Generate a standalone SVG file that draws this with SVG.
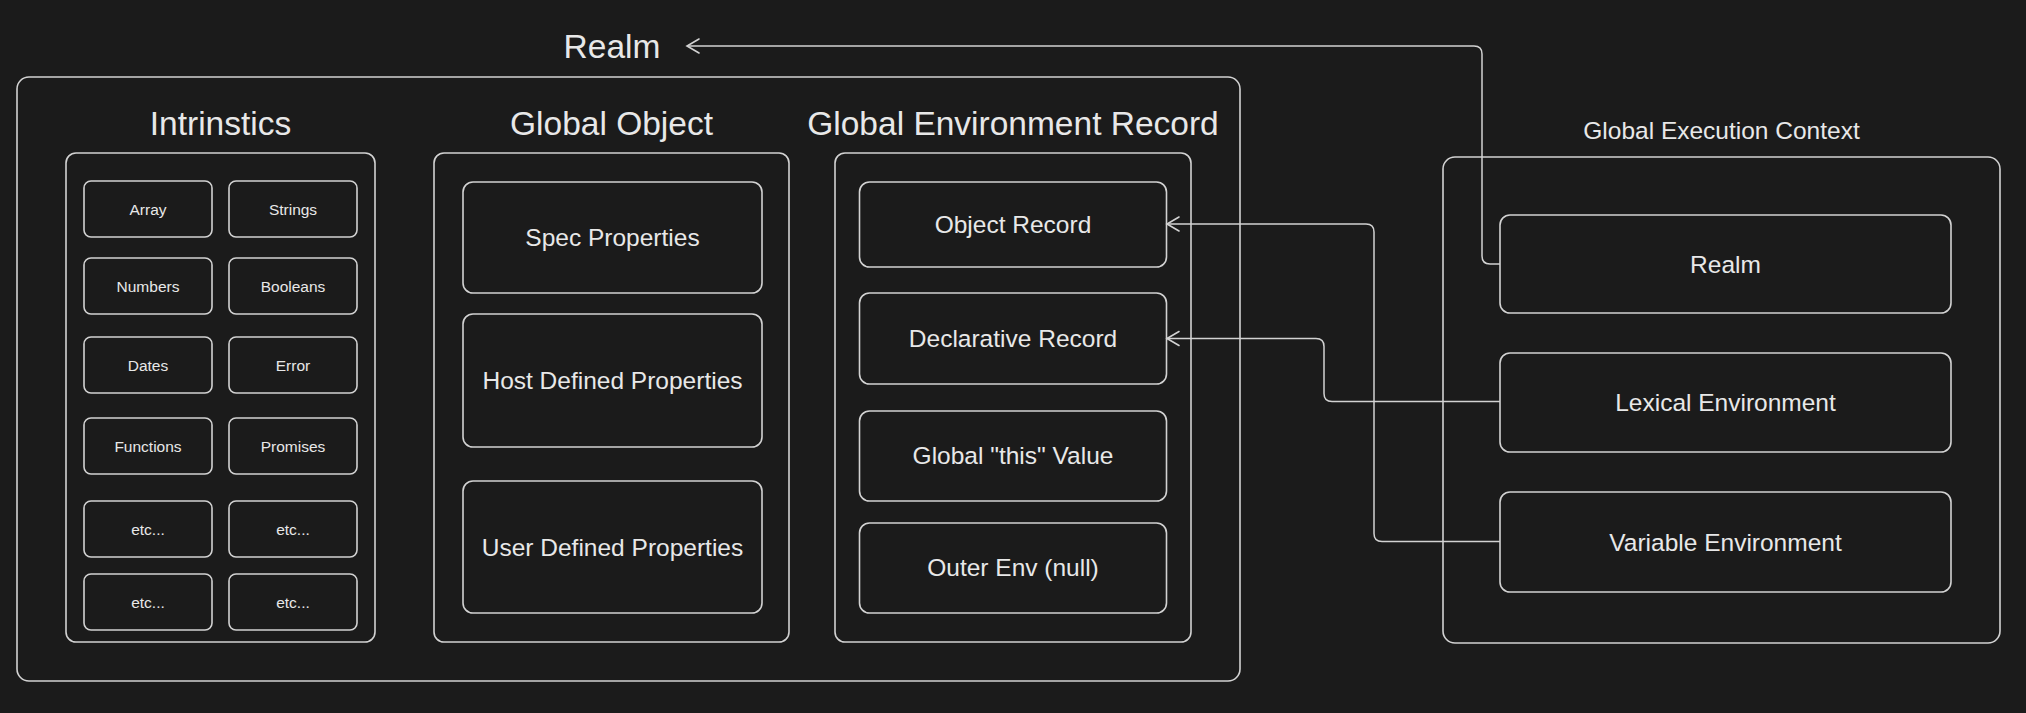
<svg xmlns="http://www.w3.org/2000/svg" width="2026" height="713" viewBox="0 0 2026 713">
<style>
.box{fill:none;stroke:#d2d2d2;stroke-width:1.6}
.conn{fill:none;stroke:#d2d2d2;stroke-width:1.5}
text{font-family:"Liberation Sans",Arial,sans-serif;fill:#e8e8e8;text-anchor:middle}
.t1{font-size:33.5px}
.t2{font-size:24.5px}
.t3{font-size:15.5px}
</style>
<defs>
<marker id="arr" markerWidth="18" markerHeight="18" viewBox="0 0 18 18" refX="15" refY="9" orient="auto" markerUnits="userSpaceOnUse">
<path d="M3,2 L15,9 L3,16" fill="none" stroke="#d2d2d2" stroke-width="1.6" stroke-linecap="round"/>
</marker>
</defs>
<rect x="0" y="0" width="2026" height="713" fill="#1b1b1b"/>

<g id="realm">
<text class="t1" x="612" y="58">Realm</text>
<rect class="box" x="17" y="77" width="1223" height="604" rx="12"/>
</g>

<g id="intrinsics">
<text class="t1" x="220.5" y="135">Intrinstics</text>
<rect class="box" x="66" y="153" width="309" height="489" rx="10"/>
</g>
<g id="array"><rect class="box" x="84" y="181" width="128" height="56" rx="7"/><text class="t3" x="148" y="214.5">Array</text></g>
<g id="strings"><rect class="box" x="229" y="181" width="128" height="56" rx="7"/><text class="t3" x="293" y="214.5">Strings</text></g>
<g id="numbers"><rect class="box" x="84" y="258" width="128" height="56" rx="7"/><text class="t3" x="148" y="291.5">Numbers</text></g>
<g id="booleans"><rect class="box" x="229" y="258" width="128" height="56" rx="7"/><text class="t3" x="293" y="291.5">Booleans</text></g>
<g id="dates"><rect class="box" x="84" y="337" width="128" height="56" rx="7"/><text class="t3" x="148" y="370.5">Dates</text></g>
<g id="error"><rect class="box" x="229" y="337" width="128" height="56" rx="7"/><text class="t3" x="293" y="370.5">Error</text></g>
<g id="functions"><rect class="box" x="84" y="418" width="128" height="56" rx="7"/><text class="t3" x="148" y="451.5">Functions</text></g>
<g id="promises"><rect class="box" x="229" y="418" width="128" height="56" rx="7"/><text class="t3" x="293" y="451.5">Promises</text></g>
<g id="etc1"><rect class="box" x="84" y="501" width="128" height="56" rx="7"/><text class="t3" x="148" y="534.5">etc...</text></g>
<g id="etc2"><rect class="box" x="229" y="501" width="128" height="56" rx="7"/><text class="t3" x="293" y="534.5">etc...</text></g>
<g id="etc3"><rect class="box" x="84" y="574" width="128" height="56" rx="7"/><text class="t3" x="148" y="607.5">etc...</text></g>
<g id="etc4"><rect class="box" x="229" y="574" width="128" height="56" rx="7"/><text class="t3" x="293" y="607.5">etc...</text></g>

<g id="global-object">
<text class="t1" x="611.5" y="135">Global Object</text>
<rect class="box" x="434" y="153" width="355" height="489" rx="10"/>
</g>
<g id="spec-props"><rect class="box" x="463" y="182" width="299" height="111" rx="10"/><text class="t2" x="612.5" y="245.5">Spec Properties</text></g>
<g id="host-props"><rect class="box" x="463" y="314" width="299" height="133" rx="10"/><text class="t2" x="612.5" y="389">Host Defined Properties</text></g>
<g id="user-props"><rect class="box" x="463" y="481" width="299" height="132" rx="10"/><text class="t2" x="612.5" y="555.5">User Defined Properties</text></g>

<g id="global-env-record">
<text class="t1" x="1013" y="135">Global Environment Record</text>
<rect class="box" x="835" y="153" width="356" height="489" rx="10"/>
</g>
<g id="object-record"><rect class="box" x="859.5" y="182" width="307" height="85" rx="10"/><text class="t2" x="1013" y="232.5">Object Record</text></g>
<g id="declarative-record"><rect class="box" x="859.5" y="293" width="307" height="91" rx="10"/><text class="t2" x="1013" y="347">Declarative Record</text></g>
<g id="global-this"><rect class="box" x="859.5" y="411" width="307" height="90" rx="10"/><text class="t2" x="1013" y="464">Global "this" Value</text></g>
<g id="outer-env"><rect class="box" x="859.5" y="523" width="307" height="90" rx="10"/><text class="t2" x="1013" y="576">Outer Env (null)</text></g>

<g id="gec">
<text class="t2" x="1721.5" y="139">Global Execution Context</text>
<rect class="box" x="1443" y="157" width="557" height="486" rx="12"/>
</g>
<g id="gec-realm"><rect class="box" x="1500" y="215" width="451" height="98" rx="10"/><text class="t2" x="1725.5" y="272.5">Realm</text></g>
<g id="lexical-env"><rect class="box" x="1500" y="353" width="451" height="99" rx="10"/><text class="t2" x="1725.5" y="410.5">Lexical Environment</text></g>
<g id="variable-env"><rect class="box" x="1500" y="492" width="451" height="100" rx="10"/><text class="t2" x="1725.5" y="550.5">Variable Environment</text></g>

<g id="connectors">
<path class="conn" d="M1500,264 L1490,264 Q1482,264 1482,256 L1482,54 Q1482,46 1474,46 L687,46" marker-end="url(#arr)"/>
<path class="conn" d="M1500,401.5 L1332,401.5 Q1324,401.5 1324,393.5 L1324,346.5 Q1324,338.5 1316,338.5 L1167,338.5" marker-end="url(#arr)"/>
<path class="conn" d="M1500,541.5 L1382,541.5 Q1374,541.5 1374,533.5 L1374,232 Q1374,224 1366,224 L1167,224" marker-end="url(#arr)"/>
</g>
</svg>
